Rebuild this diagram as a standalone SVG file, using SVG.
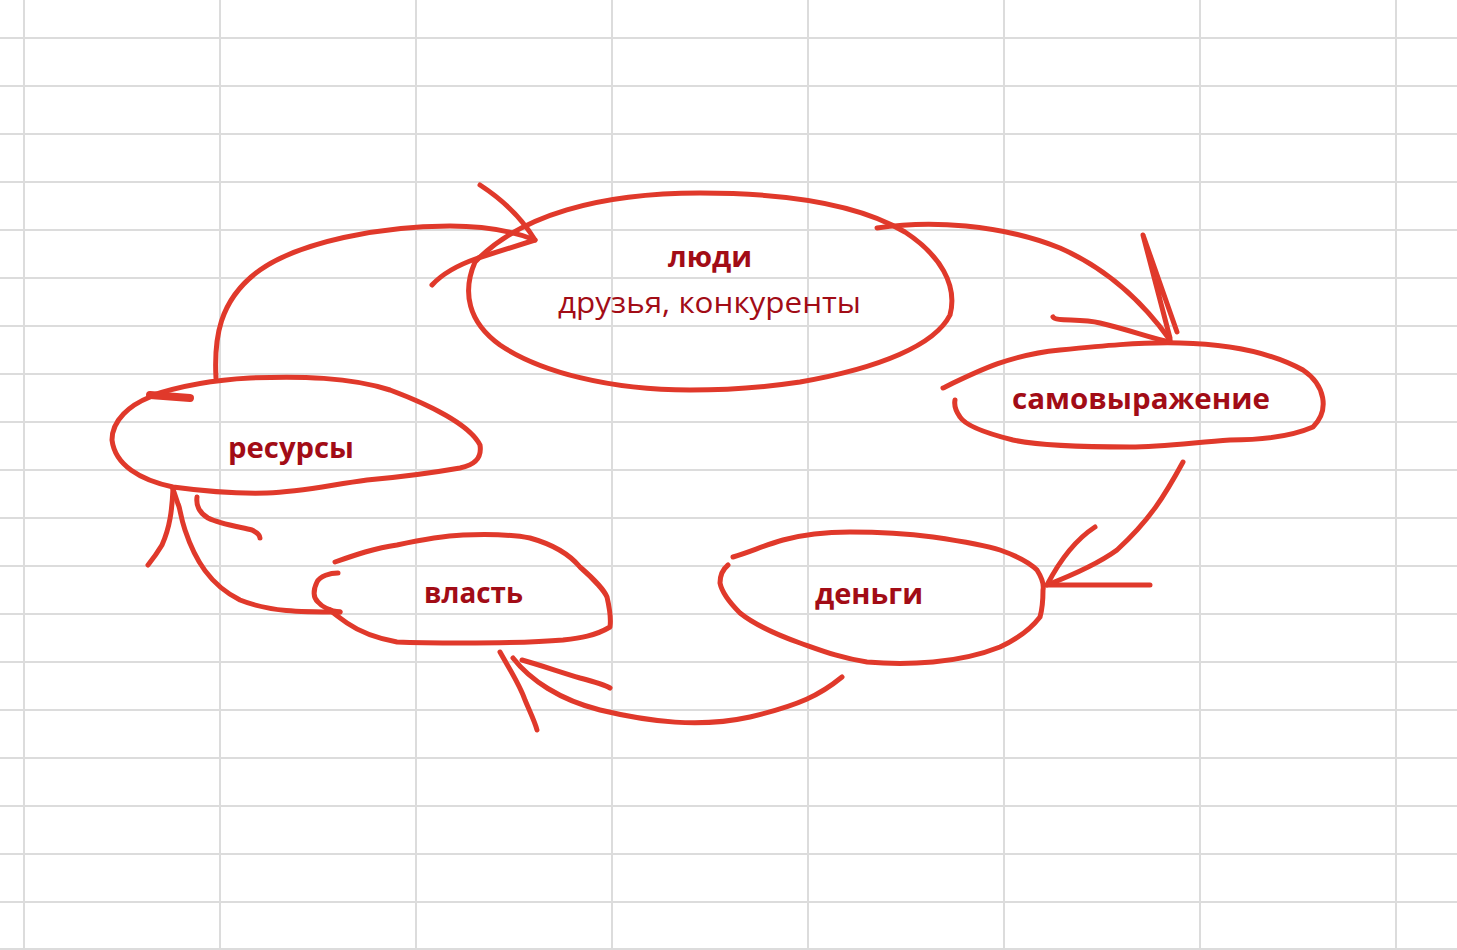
<svg xmlns="http://www.w3.org/2000/svg" width="1457" height="950" viewBox="0 0 1457 950">
<style>
.grid line{stroke:#dcdcdc;stroke-width:2}
.ink{fill:none;stroke:#e0392b;stroke-width:5;stroke-linecap:round;stroke-linejoin:round}
.lbl{font-family:"Open Sans","Noto Sans","Liberation Sans",sans-serif;fill:#a20c16;font-size:29px;text-anchor:middle}
.b{font-weight:bold}
</style>
<rect width="1457" height="950" fill="#ffffff"/>
<g class="grid">
<line x1="24" y1="0" x2="24" y2="950"/><line x1="220" y1="0" x2="220" y2="950"/><line x1="416" y1="0" x2="416" y2="950"/><line x1="612" y1="0" x2="612" y2="950"/><line x1="808" y1="0" x2="808" y2="950"/><line x1="1004" y1="0" x2="1004" y2="950"/><line x1="1200" y1="0" x2="1200" y2="950"/><line x1="1396" y1="0" x2="1396" y2="950"/>
<line x1="0" y1="38" x2="1457" y2="38"/><line x1="0" y1="86" x2="1457" y2="86"/><line x1="0" y1="134" x2="1457" y2="134"/><line x1="0" y1="182" x2="1457" y2="182"/><line x1="0" y1="230" x2="1457" y2="230"/><line x1="0" y1="278" x2="1457" y2="278"/><line x1="0" y1="326" x2="1457" y2="326"/><line x1="0" y1="374" x2="1457" y2="374"/><line x1="0" y1="422" x2="1457" y2="422"/><line x1="0" y1="470" x2="1457" y2="470"/><line x1="0" y1="518" x2="1457" y2="518"/><line x1="0" y1="566" x2="1457" y2="566"/><line x1="0" y1="614" x2="1457" y2="614"/><line x1="0" y1="662" x2="1457" y2="662"/><line x1="0" y1="710" x2="1457" y2="710"/><line x1="0" y1="758" x2="1457" y2="758"/><line x1="0" y1="806" x2="1457" y2="806"/><line x1="0" y1="854" x2="1457" y2="854"/><line x1="0" y1="902" x2="1457" y2="902"/><line x1="0" y1="949" x2="1457" y2="949"/>
</g>
<g id="connectors">
<path class="ink" d="M216,378 C214,340 218,300 260,270 C300,242 380,226 450,226 C490,226 515,232 535,240"/>
<path class="ink" d="M480,185 C500,198 520,215 535,240 L478,258 C455,266 442,274 432,285"/>
<path class="ink" d="M877,228 C930,220 1000,224 1060,248 C1110,270 1145,305 1170,340"/>
<path class="ink" d="M1170,338 L1143,235 L1177,332"/>
<path class="ink" d="M1053,317 C1056,322 1080,318 1100,323 C1130,330 1150,338 1170,342"/>
<path class="ink" d="M1183,462 C1165,495 1150,520 1117,550 C1095,566 1065,578 1047,585"/>
<path class="ink" d="M1095,527 C1075,540 1060,560 1047,585 L1150,585"/>
<path class="ink" d="M842,677 C820,695 800,705 750,717 C700,728 650,722 600,710 C560,700 530,680 513,658"/>
<path class="ink" d="M500,652 C510,670 520,685 525,700 C530,712 535,722 537,730"/>
<path class="ink" d="M522,660 C540,665 560,672 580,678 C595,682 605,685 610,688"/>
<path class="ink" d="M340,612 C300,612 270,612 240,600 C210,585 195,560 185,530 C180,515 180,507 178,504 L173,489"/>
<path class="ink" d="M173,489 C172,510 170,527 162,545 C156,555 152,560 148,565"/>
<path class="ink" d="M197,497 C196,505 198,512 208,518 C220,524 240,527 252,530 C258,533 260,536 260,538"/>
</g>
<g id="node-people">
<path class="ink" d="M475,262 C520,215 600,193 700,193 C790,193 860,205 905,232 C940,255 958,285 950,315 C935,345 880,368 800,382 C760,388 730,390 690,390 C610,390 540,372 500,345 C468,322 462,292 475,262"/>
<text class="lbl b" x="710" y="267" textLength="84" lengthAdjust="spacingAndGlyphs">люди</text>
<text class="lbl" x="709.5" y="313" textLength="303" lengthAdjust="spacingAndGlyphs">друзья, конкуренты</text>
</g>
<g id="node-self">
<path class="ink" d="M943,388 C980,370 1010,355 1060,350 C1100,346 1140,342 1180,343 C1230,344 1270,352 1303,370 C1325,385 1330,410 1313,427 C1290,437 1260,440 1230,440 C1190,443 1160,447 1130,447 C1080,447 1040,446 1013,440 C985,433 965,425 960,417 C955,410 954,405 955,400"/>
<text class="lbl b" x="1141" y="409" textLength="258" lengthAdjust="spacingAndGlyphs">самовыражение</text>
</g>
<g id="node-resources">
<path class="ink" d="M150,396 C180,386 210,380 250,378 C300,376 350,377 390,390 C430,405 470,425 480,445 C482,458 475,465 460,468 C420,475 390,478 367,480 C330,485 300,492 267,493 C230,494 195,490 173,487 C140,480 115,465 112,440 C112,420 130,405 150,397"/>
<path class="ink" d="M150,395 L190,398" style="stroke-width:8"/>
<text class="lbl b" x="291" y="458" textLength="126" lengthAdjust="spacingAndGlyphs">ресурсы</text>
</g>
<g id="node-power">
<path class="ink" d="M335,562 C355,555 375,548 397,545 C420,540 440,536 463,535 C490,534 510,534 530,538 C555,545 570,555 580,567 C595,580 605,592 607,597 C610,610 611,620 610,627 C595,636 580,638 563,640 C530,643 495,643 463,643 C440,643 420,643 397,642 C375,638 360,632 347,623 C340,618 333,613 330,610"/>
<path class="ink" d="M338,573 C330,573 320,576 317,582 C313,590 313,598 318,602 C323,608 332,611 340,612"/>
<text class="lbl b" x="473.5" y="603" textLength="99" lengthAdjust="spacingAndGlyphs">власть</text>
</g>
<g id="node-money">
<path class="ink" d="M733,557 C750,552 765,545 783,540 C805,534 830,532 850,532 C880,532 910,534 933,537 C960,541 985,545 1000,550 C1020,557 1032,565 1037,570 C1042,578 1044,585 1043,590 C1043,600 1042,610 1040,617 C1030,630 1015,640 1000,647 C980,655 955,660 933,662 C910,664 890,664 867,662 C840,658 820,650 800,643 C775,634 755,625 740,613 C730,603 722,593 720,583 C720,575 722,570 728,565"/>
<text class="lbl b" x="869" y="604" textLength="108" lengthAdjust="spacingAndGlyphs">деньги</text>
</g>
</svg>
